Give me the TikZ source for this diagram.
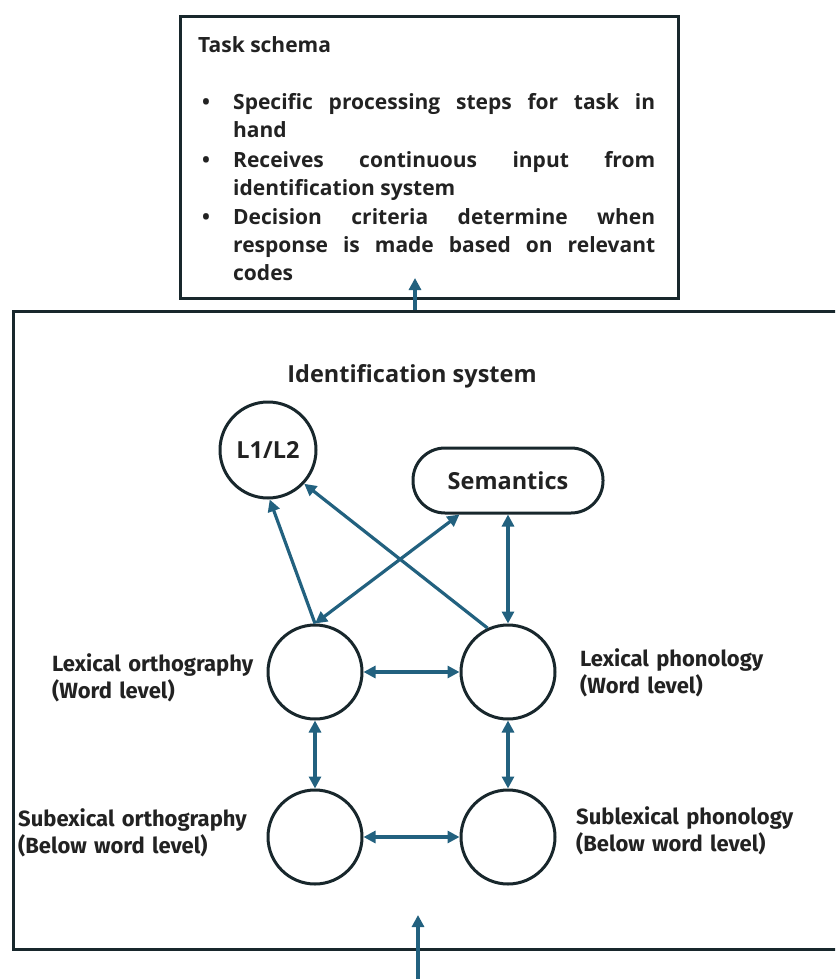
\documentclass[tikz,border=0pt]{standalone}
\usepackage{fontspec}
\setmainfont{Open Sans}
\newfontfamily\labfont{Fira Sans}
\usetikzlibrary{arrows.meta,calc}
\definecolor{arr}{HTML}{22617F}
\definecolor{edge}{HTML}{18272C}
\definecolor{txt}{HTML}{222222}
\begin{document}
\begin{tikzpicture}[x=1pt,y=-1pt,
  tip/.tip={Triangle[length=12pt,width=12pt]},
  conn/.style={draw=arr, line width=3.2pt, -tip},
  dconn/.style={draw=arr, line width=3.2pt, tip-tip},
  ring/.style={circle, draw=edge, line width=3pt, minimum size=94pt, inner sep=0pt},
  frame/.style={draw=edge, line width=3.3pt, inner sep=0pt, anchor=north west},
  headtxt/.style={inner sep=0pt, text=txt, font=\bfseries\fontsize{21}{28}\selectfont},
  bigtxt/.style={inner sep=0pt, text=txt, font=\bfseries\fontsize{23.5}{28}\selectfont},
  lab/.style={inner sep=0pt, text=txt, anchor=base west, text width=260pt, align=left,
    font=\labfont\bfseries\fontsize{22}{27}\selectfont}
]
\useasboundingbox (0,0) rectangle (835,979);
\clip (0,0) rectangle (835,979);

% task schema box
\node[frame, minimum width=498pt, minimum height=282pt] (task) at (179,15) {};
\node[headtxt, anchor=base west] (title) at (198,53) {Task schema};
\node[headtxt, anchor=base west, text width=453pt, align=justify] (bullets) at (202,110) {%
\parskip=1.5pt
\noindent\hangindent=31pt\hangafter=1\makebox[31pt][l]{\textbullet}Specific processing steps for task in\linebreak hand\par
\noindent\hangindent=31pt\hangafter=1\makebox[31pt][l]{\textbullet}Receives continuous input from\linebreak identification system\par
\noindent\hangindent=31pt\hangafter=1\makebox[31pt][l]{\textbullet}Decision criteria determine when\linebreak response is made based on relevant\linebreak codes\par};

% identification system box
\node[frame, minimum width=832pt, minimum height=638pt] (outer) at (12,310) {};
\node[bigtxt, anchor=base] (idsys) at (412,382) {Identification system};

\node[ring, minimum size=96pt, bigtxt, draw=edge] (l1) at (268,450) {L1/L2};
\node[draw=edge, line width=3pt, rounded corners=32pt, minimum width=190pt,
      minimum height=65pt, bigtxt] (sem) at (508,480.5) {Semantics};

\node[ring] (lo) at (315,672) {};
\node[ring] (lp) at (508,672) {};
\node[ring] (so) at (315,837) {};
\node[ring] (sp) at (508,837) {};

\node[lab] (lolab) at (52,671) {Lexical orthography\\(Word level)};
\node[lab] (lplab) at (580,666) {Lexical phonology\\(Word level)};
\node[lab] (solab) at (18,826) {Subexical orthography\\(Below word level)};
\node[lab] (splab) at (576,824) {Sublexical phonology\\(Below word level)};

% connectors
\draw[conn] (lo.north) -- (l1.-88);
\draw[conn] (lp.115) -- (l1.-43);
\draw[dconn] (lo.north) -- (sem.-145.5);
\draw[dconn] (sem.south) -- (lp.north);
\draw[dconn] (lo) -- (lp);
\draw[dconn] (so) -- (sp);
\draw[dconn] (lo) -- (so);
\draw[dconn] (lp) -- (sp);

\coordinate (up1) at (415,310);
\coordinate (up2) at (415,278);
\draw[conn] (up1) -- (up2);
\coordinate (in1) at (418,979);
\coordinate (in2) at (418,915);
\draw[conn] (in1) -- (in2);
\end{tikzpicture}
\end{document}
